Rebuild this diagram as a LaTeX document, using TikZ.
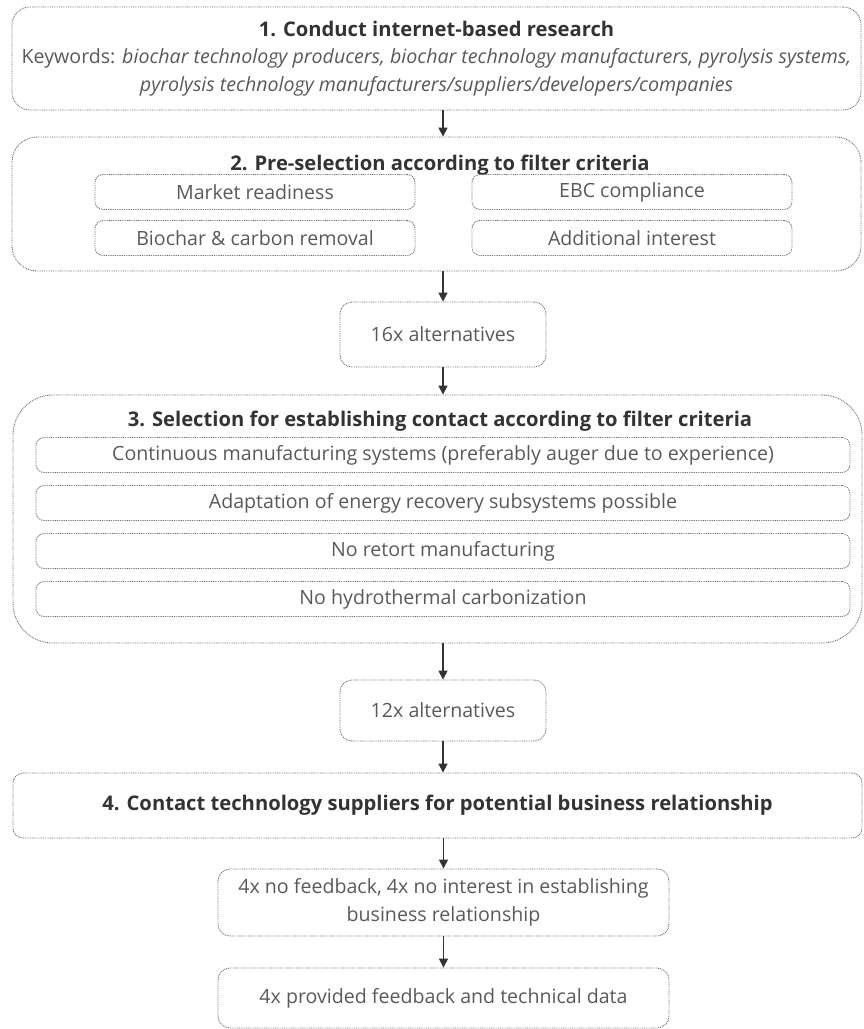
\documentclass[tikz,border=0pt]{standalone}
\usepackage{fontspec}
\setmainfont{Open Sans}
\usetikzlibrary{arrows.meta}
\definecolor{framegray}{HTML}{707070}
\definecolor{textgray}{HTML}{595959}
\definecolor{titlegray}{HTML}{333333}
\newcommand{\ttlfont}{\fontsize{20.2}{27.5}\selectfont\bfseries}

\begin{document}
\begin{tikzpicture}[x=1pt,y=-1pt]
\tikzset{frame/.style={draw=framegray, line width=0.9pt, dash pattern=on 0.9pt off 0.9pt, text=textgray, font=\fontsize{19.6}{27.5}\selectfont, align=center, inner sep=0pt},
  bigbox/.style={frame, minimum width=849pt, rounded corners=#1},
  critbox/.style={frame, minimum height=35pt, rounded corners=8pt},
  countbox/.style={frame, rounded corners=12pt},
  ttl/.style={text=titlegray, font=\ttlfont, inner sep=0pt, anchor=base},
  arr/.style={-{Triangle[length=9pt,width=9pt]}, draw=titlegray, line width=1.6pt}}
\useasboundingbox (0,0) rectangle (863,1029);
\node[bigbox=18pt, minimum height=103pt] (research) at (436.5,58.5) {\textcolor{titlegray}{\ttlfont 1. Conduct internet-based research}\\ Keywords: \textit{biochar technology producers, biochar technology manufacturers, pyrolysis systems,}\\ \textit{pyrolysis technology manufacturers/suppliers/developers/companies}};
\node[bigbox=25pt, minimum height=134pt] (presel) at (436.5,204) {};
\node[ttl] (preseltitle) at (440,170) {2. Pre-selection according to filter criteria};
\node[critbox, minimum width=320pt] (ready) at (255,192) {Market readiness};
\node[critbox, minimum width=320pt] (ebc) at (632,192) {EBC compliance};
\node[critbox, minimum width=320pt] (removal) at (255,238) {Biochar \& carbon removal};
\node[critbox, minimum width=320pt] (interest) at (632,238) {Additional interest};
\node[countbox, minimum width=206pt, minimum height=65pt] (alt16) at (443,334.5) {16x alternatives};
\node[bigbox=40pt, minimum height=248pt] (contsel) at (437.5,519) {};
\node[ttl] (contseltitle) at (440,426) {3. Selection for establishing contact according to filter criteria};
\node[critbox, minimum width=814pt] (contin) at (443,455) {Continuous manufacturing systems (preferably auger due to experience)};
\node[critbox, minimum width=814pt] (energy) at (443,503) {Adaptation of energy recovery subsystems possible};
\node[critbox, minimum width=814pt] (retort) at (443,551) {No retort manufacturing};
\node[critbox, minimum width=814pt] (htc) at (443,599) {No hydrothermal carbonization};
\node[countbox, minimum width=206pt, minimum height=61pt] (alt12) at (443,710.5) {12x alternatives};
\node[bigbox=10pt, minimum height=65pt] (contact) at (437.5,805.5) {\textcolor{titlegray}{\ttlfont 4. Contact technology suppliers for potential business relationship}};
\node[countbox, minimum width=451pt, minimum height=67pt] (nofeed) at (443.5,902.5) {4x no feedback, 4x no interest in establishing\\ business relationship};
\node[countbox, minimum width=451pt, minimum height=60pt] (feed) at (443.5,998) {4x provided feedback and technical data};
\draw[arr] (research.south -| alt16) -- (presel.north -| alt16);
\draw[arr] (presel.south -| alt16) -- (alt16.north);
\draw[arr] (alt16.south) -- (contsel.north -| alt16);
\draw[arr] (contsel.south -| alt16) -- (alt12.north);
\draw[arr] (alt12.south) -- (contact.north -| alt12);
\draw[arr] (contact.south -| nofeed) -- (nofeed.north);
\draw[arr] (nofeed.south) -- (feed.north);
\end{tikzpicture}
\end{document}
